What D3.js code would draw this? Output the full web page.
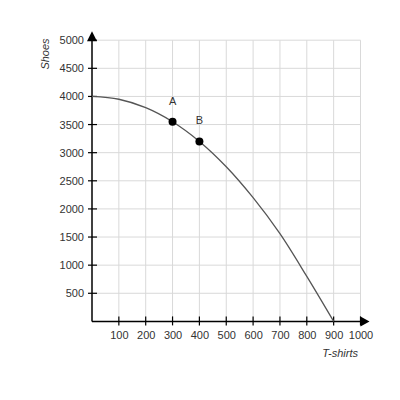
<!DOCTYPE html>
<html><head><meta charset="utf-8">
<script src="https://cdn.jsdelivr.net/npm/d3@7"></script>
<style>body{margin:0;background:#fff}svg{display:block}</style>
</head><body>
<svg id="c" width="400" height="400"></svg>
<script>
const xTicks = [100,200,300,400,500,600,700,800,900,1000];
const yTicks = [500,1000,1500,2000,2500,3000,3500,4000,4500,5000];
const curveX = [0,100,200,300,400,500,600,700,800,900];
const curveY = [4000,3950,3800,3550,3200,2750,2200,1560,800,0];
const pointLabels = ["A","B"];
const pointX = [300,400];
const pointY = [3550,3200];
const xTitle = "T-shirts", yTitle = "Shoes";

const svg = d3.select("#c");
const x = d3.scaleLinear().domain([0,1000]).range([92,360.5]);
const y = d3.scaleLinear().domain([0,5000]).range([321.4,40.2]);
const font = "Liberation Sans, Arial, sans-serif";
const fmt = d3.format("d");

// grid
svg.append("g").selectAll("line").data(xTicks).join("line")
  .attr("x1",d=>x(d)).attr("x2",d=>x(d)).attr("y1",y(0)).attr("y2",y(5000))
  .attr("stroke","#d9d9d9").attr("stroke-width",1);
svg.append("g").selectAll("line").data(yTicks).join("line")
  .attr("y1",d=>y(d)).attr("y2",d=>y(d)).attr("x1",x(0)).attr("x2",x(1000))
  .attr("stroke","#d9d9d9").attr("stroke-width",1);

// axes
const xAxis = d3.axisBottom(x).tickValues(xTicks).tickFormat(fmt).tickSize(0).tickPadding(10);
const gx = svg.append("g").attr("transform",`translate(0,${y(0)})`).call(xAxis);
gx.select(".domain").remove();
gx.selectAll("text").attr("font-family",font).attr("font-size",11).attr("fill","#333");
const yAxis = d3.axisLeft(y).tickValues(yTicks).tickFormat(fmt).tickSize(0).tickPadding(8);
const gy = svg.append("g").attr("transform",`translate(${x(0)},0)`).call(yAxis);
gy.select(".domain").remove();
gy.selectAll("text").attr("font-family",font).attr("font-size",11).attr("fill","#333");

// tick marks crossing axes
svg.append("g").selectAll("line").data(xTicks).join("line")
  .attr("x1",d=>x(d)).attr("x2",d=>x(d)).attr("y1",y(0)-5).attr("y2",y(0)+4)
  .attr("stroke","#000").attr("stroke-width",1.2);
svg.append("g").selectAll("line").data(yTicks).join("line")
  .attr("y1",d=>y(d)).attr("y2",d=>y(d)).attr("x1",x(0)-4).attr("x2",x(0)+5)
  .attr("stroke","#000").attr("stroke-width",1.2);

// axis lines with arrows
svg.append("line").attr("x1",x(0)).attr("x2",x(1000)+2).attr("y1",y(0)).attr("y2",y(0))
  .attr("stroke","#000").attr("stroke-width",1.5);
svg.append("line").attr("x1",x(0)).attr("x2",x(0)).attr("y1",y(0)).attr("y2",y(5000)-2)
  .attr("stroke","#000").attr("stroke-width",1.5);
const ax = x(1000), ay = y(0);
svg.append("path").attr("d",`M${ax},${ay-5}L${ax+9},${ay}L${ax},${ay+5}Z`).attr("fill","#000");
const bx = x(0), by = y(5000);
svg.append("path").attr("d",`M${bx-5},${by+1}L${bx},${by-9}L${bx+5},${by+1}Z`).attr("fill","#000");

// curve
const pts = curveX.map((d,i)=>[d,curveY[i]]);
svg.append("path").datum(pts)
  .attr("d",d3.line().x(d=>x(d[0])).y(d=>y(d[1])).curve(d3.curveCatmullRom))
  .attr("fill","none").attr("stroke","#555").attr("stroke-width",1.3);

// points
svg.append("g").selectAll("circle").data(pointX).join("circle")
  .attr("cx",d=>x(d)).attr("cy",(d,i)=>y(pointY[i])).attr("r",4).attr("fill","#000");
svg.append("g").selectAll("text").data(pointLabels).join("text")
  .attr("x",(d,i)=>x(pointX[i])).attr("y",(d,i)=>y(pointY[i])-17)
  .attr("text-anchor","middle").attr("font-family",font).attr("font-size",11).attr("fill","#333")
  .text(d=>d);

// titles
svg.append("text").attr("x",358).attr("y",357).attr("text-anchor","end")
  .attr("font-family",font).attr("font-size",11).attr("font-style","italic").attr("fill","#333").text(xTitle);
svg.append("text").attr("transform","translate(49,54) rotate(-90)").attr("text-anchor","middle")
  .attr("font-family",font).attr("font-size",11).attr("font-style","italic").attr("fill","#333").text(yTitle);
</script>
</body></html>
